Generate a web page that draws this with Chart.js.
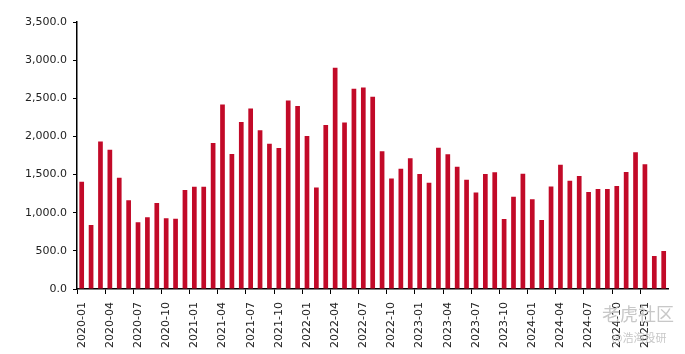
<!DOCTYPE html>
<html>
<head>
<meta charset="utf-8">
<script src="https://cdn.jsdelivr.net/npm/chart.js@4"></script>
<style>
  html, body { margin: 0; padding: 0; background: #fff; }
  #wrap { position: relative; width: 685px; height: 354px; }
  .wm { position: absolute; color: #c8c8c8; font-family: "Noto Sans CJK SC", sans-serif; pointer-events: none; }
</style>
</head>
<body>
<div id="wrap">
  <canvas id="myChart" width="685" height="354"></canvas>
  <div class="wm" style="left:602px; top:300px; font-size:18px;">老虎社区</div>
  <div class="wm" style="left:612px; top:329px; font-size:11px;">@浩海投研</div>
</div>
<script>
// months 2020-01 .. 2025-03
var months = [
  '2020-01','2020-02','2020-03','2020-04','2020-05','2020-06','2020-07','2020-08','2020-09','2020-10','2020-11','2020-12',
  '2021-01','2021-02','2021-03','2021-04','2021-05','2021-06','2021-07','2021-08','2021-09','2021-10','2021-11','2021-12',
  '2022-01','2022-02','2022-03','2022-04','2022-05','2022-06','2022-07','2022-08','2022-09','2022-10','2022-11','2022-12',
  '2023-01','2023-02','2023-03','2023-04','2023-05','2023-06','2023-07','2023-08','2023-09','2023-10','2023-11','2023-12',
  '2024-01','2024-02','2024-03','2024-04','2024-05','2024-06','2024-07','2024-08','2024-09','2024-10','2024-11','2024-12',
  '2025-01','2025-02','2025-03'
];

var values = [
  1405, 838, 1932, 1827, 1459, 1165, 876, 942, 1126, 929, 920, 1297,
  1340, 1340, 1914, 2418, 1770, 2190, 2365, 2081, 1905, 1849, 2470, 2400,
  2006, 1332, 2151, 2900, 2181, 2624, 2641, 2519, 1805, 1450, 1577, 1713,
  1507, 1393, 1853, 1766, 1603, 1432, 1266, 1507, 1529, 916, 1209, 1511,
  1175, 903, 1345, 1629, 1419, 1481, 1271, 1310, 1310, 1349, 1533, 1792,
  1634, 434, 499
];

var yMax = 3500;
var yStep = 500;

var ctx = document.getElementById('myChart').getContext('2d');
var myChart = new Chart(ctx, {
  type: 'bar',
  data: {
    labels: months,
    datasets: [{
      data: values,
      backgroundColor: '#C20A28',
      categoryPercentage: 1,
      barPercentage: 0.5
    }]
  },
  options: {
    responsive: false,
    animation: false,
    layout: { padding: { top: 22, right: 13, left: 0, bottom: 0 } },
    plugins: {
      legend: { display: false },
      tooltip: { enabled: false }
    },
    scales: {
      x: {
        grid: {
          drawOnChartArea: false,
          drawTicks: true,
          tickLength: 5,
          color: function (c) { return (c.index % 3 === 0 || c.index >= months.length) ? '#000' : 'rgba(0,0,0,0)'; }
        },
        border: { color: '#000', width: 1.5 },
        ticks: {
          autoSkip: false,
          maxRotation: 90,
          minRotation: 90,
          padding: 8,
          color: '#222',
          font: { family: 'DejaVu Sans', size: 11 },
          callback: function (v, i) { return i % 3 === 0 ? months[i] : ''; }
        },
        afterFit: function (s) { s.height = 65; }
      },
      y: {
        min: 0,
        max: yMax,
        grid: { drawOnChartArea: false, drawTicks: true, tickLength: 4, color: '#000' },
        border: { color: '#000', width: 1.5 },
        ticks: {
          stepSize: yStep,
          padding: 6,
          color: '#222',
          font: { family: 'DejaVu Sans', size: 11 },
          callback: function (v) { return v.toLocaleString('en-US', { minimumFractionDigits: 1, maximumFractionDigits: 1 }); }
        },
        afterFit: function (s) { s.width = 77; }
      }
    }
  }
});
</script>
</body>
</html>
